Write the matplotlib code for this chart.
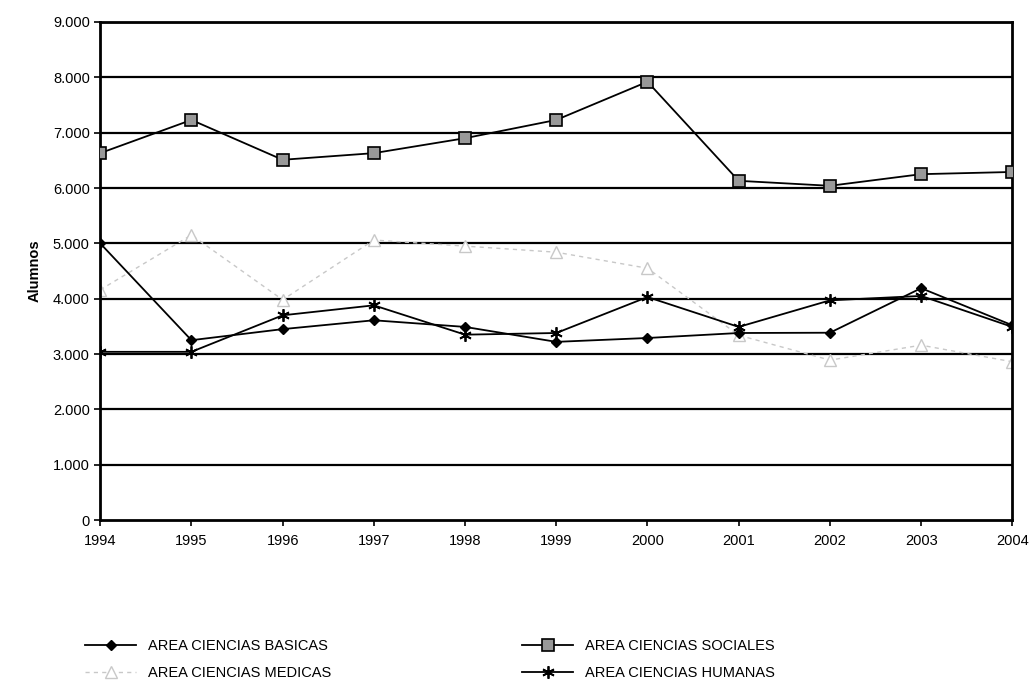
import matplotlib
matplotlib.use("Agg")
import matplotlib.pyplot as plt
from matplotlib.ticker import FuncFormatter

years = [1994, 1995, 1996, 1997, 1998, 1999, 2000, 2001, 2002, 2003, 2004]
basicas = [5000, 3250, 3450, 3610, 3490, 3220, 3290, 3380, 3385, 4190, 3520]
sociales = [6630, 7230, 6510, 6630, 6900, 7230, 7920, 6130, 6040, 6250, 6290]
medicas = [4160, 5150, 3980, 5060, 4950, 4840, 4550, 3340, 2890, 3160, 2860]
humanas = [3040, 3040, 3700, 3880, 3350, 3380, 4030, 3490, 3970, 4050, 3490]
yticks = [0, 1000, 2000, 3000, 4000, 5000, 6000, 7000, 8000, 9000]

plt.rcParams['font.family'] = ['Liberation Sans', 'DejaVu Sans']

fig = plt.figure(figsize=(10.33, 6.87), dpi=100)
ax = fig.add_axes([0.097, 0.243, 0.883, 0.725])

for v in yticks[1:]:
    ax.axhline(v, color='black', lw=1.6, zorder=1)

l1, = ax.plot(years, basicas, color='black', lw=1.3, marker='D', ms=5.5,
              mfc='black', mec='black', zorder=3, label='AREA CIENCIAS BASICAS')
l2, = ax.plot(years, sociales, color='black', lw=1.3, marker='s', ms=9,
              mfc='#999999', mec='black', mew=1.2, zorder=3, label='AREA CIENCIAS SOCIALES')
l3, = ax.plot(years, medicas, color='#c8c8c8', lw=1.0, ls=(0, (3, 3)), marker='^', ms=8,
              mfc='white', mec='#c8c8c8', zorder=2, label='AREA CIENCIAS MEDICAS')
l4, = ax.plot(years, humanas, color='black', lw=1.3, marker=(6, 2, 0), ms=9,
              mec='black', mew=1.3, zorder=3, label='AREA CIENCIAS HUMANAS')

ax.set_xlim(1994, 2004)
ax.set_ylim(0, 9000)
ax.set_xticks(years)
ax.set_yticks(yticks)
ax.yaxis.set_major_formatter(FuncFormatter(lambda v, p: f"{int(v):,}".replace(",", ".")))
ax.tick_params(axis='both', labelsize=10.5, length=4, width=1.2, direction='out')
ax.tick_params(axis='x', pad=6)
for s in ax.spines.values():
    s.set_linewidth(2.0)
    s.set_color('black')
ax.set_ylabel('Alumnos', fontsize=10.5, fontweight='bold', labelpad=8)

fig.legend(handles=[l1, l3, l2, l4], labels=[h.get_label() for h in [l1, l3, l2, l4]],
           loc='center left', bbox_to_anchor=(0.07, 0.040), ncol=2, frameon=False,
           fontsize=10.5, columnspacing=13.1, handlelength=3.5, labelspacing=0.9)

fig.savefig('out.png', dpi=100, facecolor='white')
